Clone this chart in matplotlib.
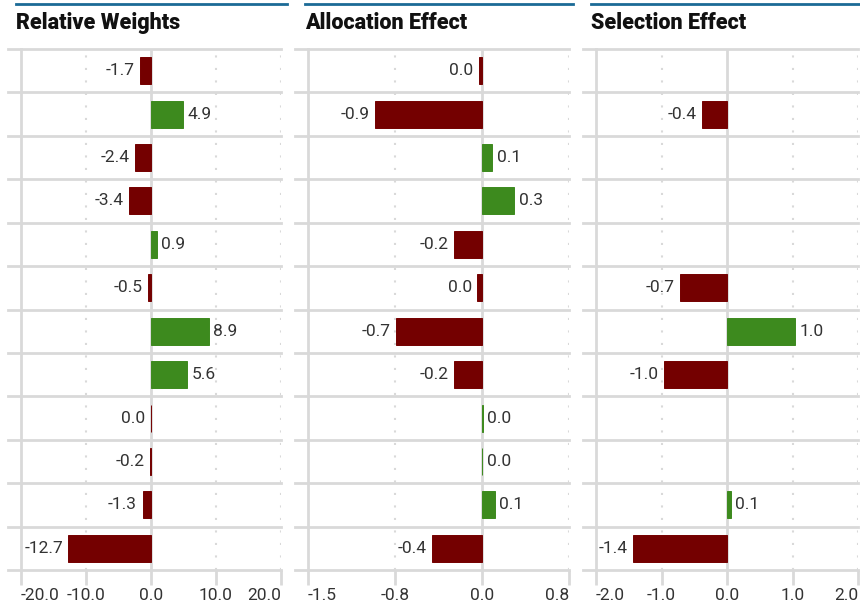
import matplotlib
matplotlib.use('Agg')
import matplotlib.pyplot as plt
import numpy as np

# Data
relative_weights = [-1.7, 4.9, -2.4, -3.4, 0.9, -0.5, 8.9, 5.6, -0.02, -0.2, -1.3, -12.7]
allocation_effect = [-0.03, -0.92, 0.09, 0.28, -0.24, -0.04, -0.74, -0.24, 0.005, 0.004, 0.11, -0.43]
selection_effect = [np.nan, -0.38, np.nan, np.nan, np.nan, -0.72, 1.04, -0.96, np.nan, np.nan, 0.06, -1.43]

titles = ['Relative Weights', 'Allocation Effect', 'Selection Effect']
limits = [(-20, 20), (-1.5, 0.75), (-2, 2)]
ticks = [[-20, -10, 0, 10, 20], [-1.5, -0.75, 0, 0.75], [-2, -1, 0, 1, 2]]

POS = '#3d8a1e'
NEG = '#740000'
GRID = '#d9d9d9'
TXT = '#333333'

plt.rcParams['font.family'] = ['Roboto', 'DejaVu Sans']

W, H = 860, 607
fig = plt.figure(figsize=(W / 100, H / 100), dpi=100)

# axes left/right edges in pixels
panels = [(21, 281), (308, 569), (596, 858)]
top, bottom = 49, 570
title_x = [16, 305, 591]
line_span = [(16, 287), (305, 573), (591, 860)]


def fmt(v):
    s = f'{v:.1f}'
    return '0.0' if s == '-0.0' else s


def draw_panel(ax, values, lim, tks):
    n = len(values)
    y = np.arange(n)
    vals = np.array(values, dtype=float)
    colors = [POS if v >= 0 else NEG for v in np.nan_to_num(vals)]
    mask = ~np.isnan(vals)
    ax.barh(y[mask], vals[mask], height=0.62, color=np.array(colors)[mask],
            edgecolor=np.array(colors)[mask], linewidth=0.7, zorder=3)
    ax.set_xlim(*lim)
    ax.set_ylim(n - 0.5, -0.5)
    ax.set_yticks([])
    ax.set_xticks(tks)
    labels = ax.set_xticklabels([f'{t:.1f}' for t in tks], fontsize=12.5, color=TXT)
    labels[0].set_ha('left')
    labels[-1].set_ha('right')
    ax.tick_params(axis='x', length=11, width=2, color=GRID, pad=2)
    for s in ['top', 'right', 'bottom']:
        ax.spines[s].set_visible(False)
    ax.spines['left'].set_color(GRID)
    ax.spines['left'].set_linewidth(2)
    ax.spines['left'].set_bounds(n - 0.5, -0.5)

    # vertical grid
    for t in tks[1:]:
        if t == 0:
            ax.axvline(0, color=GRID, lw=2, zorder=1)
        else:
            ax.axvline(t, color=GRID, lw=1.5, ls=(0, (1, 5)), zorder=1)

    # row separators, extending a bit to the left of the axis
    ext = -13 / (ax.get_position().width * W)
    for k in range(n + 1):
        ax.plot([ext, 1.0], [k - 0.5, k - 0.5], color=GRID, lw=2,
                transform=ax.get_yaxis_transform(), clip_on=False, zorder=2)

    # value labels
    for yi, v in zip(y, vals):
        if np.isnan(v):
            continue
        if v < 0:
            ax.annotate(fmt(v), (v, yi), xytext=(-4, 0), textcoords='offset points',
                        ha='right', va='center', fontsize=12.5, color=TXT)
        else:
            ax.annotate(fmt(v), (v, yi), xytext=(3, 0), textcoords='offset points',
                        ha='left', va='center', fontsize=12.5, color=TXT)


all_values = [relative_weights, allocation_effect, selection_effect]
for i in range(3):
    l, r = panels[i]
    ax = fig.add_axes([l / W, 1 - bottom / H, (r - l) / W, (bottom - top) / H])
    draw_panel(ax, all_values[i], limits[i], ticks[i])
    fig.text(title_x[i] / W, 1 - 23 / H, titles[i], fontsize=15.5, fontweight='black',
             color='#111111', ha='left', va='center')
    x0, x1 = line_span[i]
    fig.add_artist(plt.Line2D([x0 / W, x1 / W], [1 - 4 / H, 1 - 4 / H],
                              color='#1b6a96', lw=2))

fig.savefig('out.png', dpi=100)
